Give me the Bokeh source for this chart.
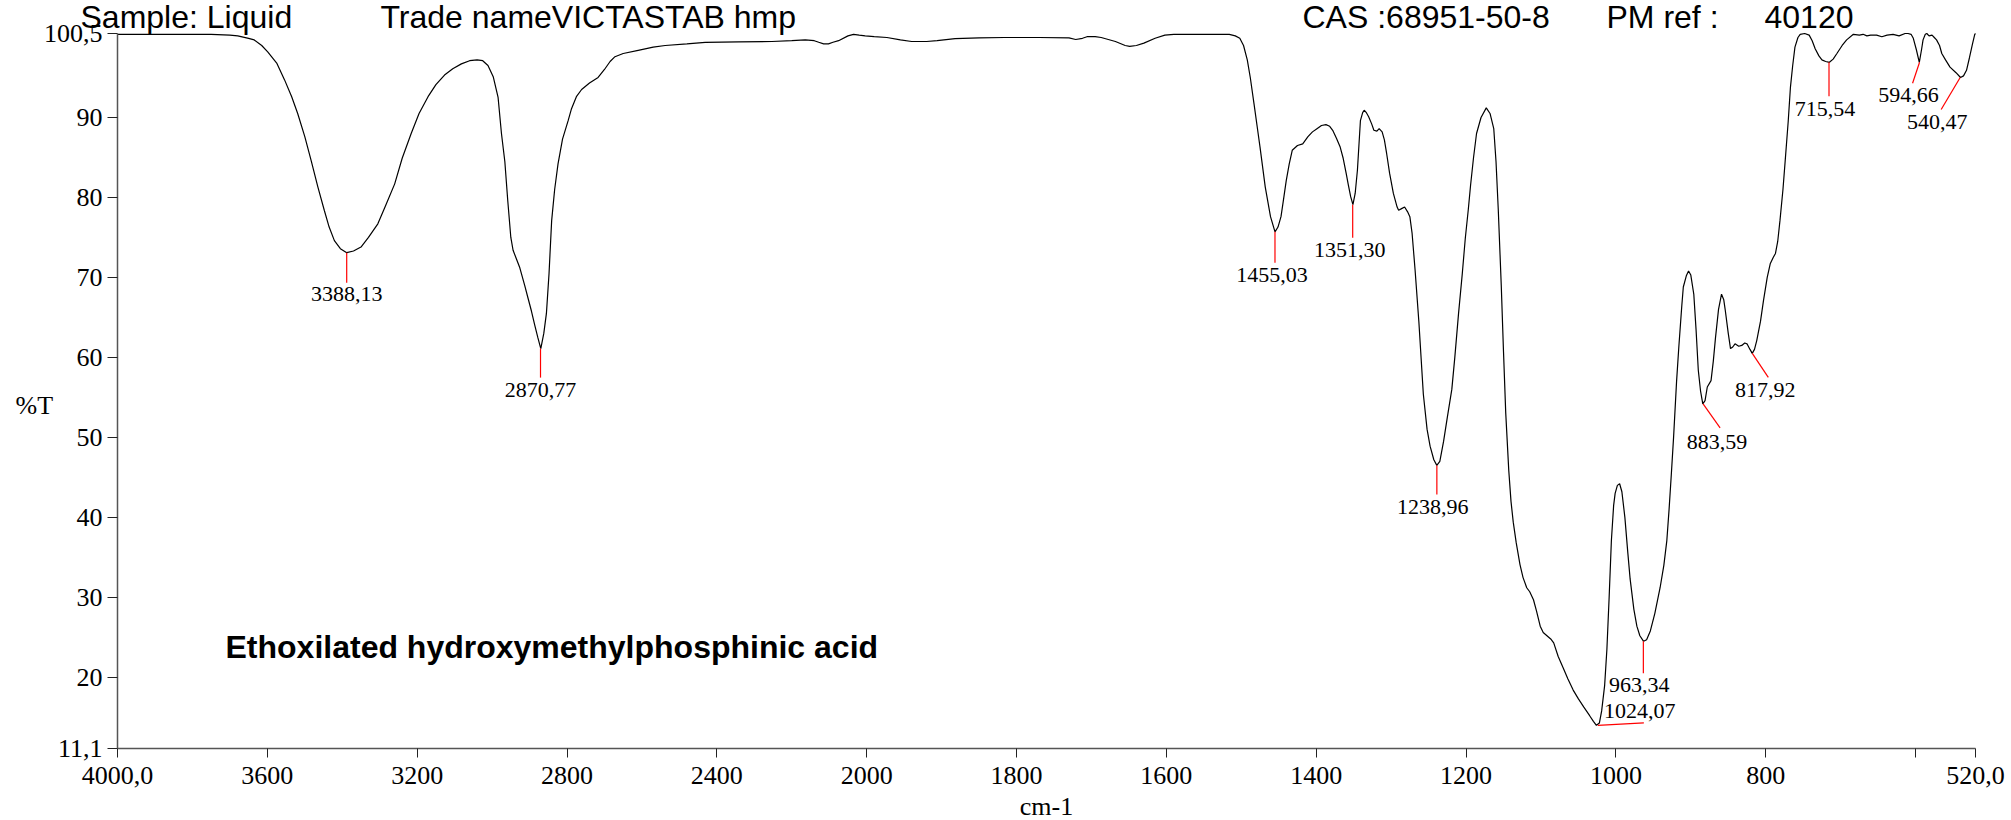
import numpy as np
from bokeh.plotting import figure
from bokeh.models import FixedTicker, ColumnDataSource
from bokeh.core.properties import value
from bokeh.embed import file_html
from bokeh.resources import INLINE

# ---------------- data ----------------
wavenumber = [4000, 3900, 3800, 3750, 3700, 3679, 3650, 3635, 3615, 3599, 3575, 3554, 3535, 3519, 3500,
              3483, 3465, 3448, 3435, 3421, 3405, 3388, 3370, 3350, 3330, 3305, 3285, 3260, 3240, 3216,
              3195, 3171, 3150, 3127, 3105, 3082, 3060, 3040, 3025, 3011, 2997, 2984, 2975, 2966, 2958,
              2950, 2944, 2935, 2926, 2913, 2904, 2895, 2886, 2878, 2870, 2862, 2855, 2848, 2841, 2833,
              2824, 2812, 2797, 2788, 2775, 2761, 2740, 2717, 2700, 2685, 2672, 2650, 2610, 2570, 2538,
              2480, 2431, 2342, 2253, 2200, 2164, 2140, 2128, 2115, 2102, 2090, 2075, 2050, 2035, 2020,
              2004, 1990, 1973, 1955, 1940, 1920, 1906, 1882, 1850, 1816, 1770, 1730, 1721, 1712, 1706,
              1695, 1687, 1668, 1655, 1649, 1640, 1630, 1615, 1602, 1590, 1578, 1516, 1508, 1502, 1497,
              1492, 1488, 1483, 1479, 1475, 1468, 1461, 1455, 1451, 1447, 1444, 1440, 1436, 1432, 1425,
              1418, 1411, 1405, 1399, 1393, 1387, 1382, 1378, 1373, 1368, 1364, 1360, 1357, 1354, 1351,
              1348, 1345, 1343, 1341, 1338, 1336, 1333, 1330, 1326, 1323, 1319, 1316, 1312, 1309, 1306,
              1302, 1297, 1292, 1290, 1286, 1282, 1278, 1275, 1272, 1268, 1263, 1257, 1252, 1248, 1243,
              1239, 1235, 1230, 1225, 1219, 1215, 1210, 1205, 1201, 1197, 1194, 1190, 1186, 1180, 1173,
              1168, 1163, 1160, 1157, 1153, 1150, 1147, 1143, 1140, 1137, 1133, 1128, 1124, 1119, 1115,
              1110, 1106, 1101, 1097, 1092, 1087, 1083, 1077, 1070, 1064, 1057, 1050, 1043, 1035, 1030,
              1026, 1022, 1019, 1015, 1012, 1009, 1006, 1003, 1001, 998, 995, 992, 988, 984, 981,
              976, 972, 968, 963, 959, 954, 948, 941, 936, 932, 929, 926, 923, 919, 916,
              912, 910, 906, 903, 900, 896, 893, 890, 887, 884, 881, 878, 873, 870, 867,
              863, 859, 856, 854, 850, 847, 844, 841, 836, 832, 828, 825, 821, 818, 815,
              812, 807, 803, 798, 794, 790, 787, 784, 781, 777, 774, 770, 767, 764, 761,
              757, 754, 748, 742, 738, 734, 729, 725, 720, 715, 710, 705, 698, 692, 683,
              675, 670, 665, 660, 652, 645, 638, 630, 622, 614, 610, 606, 603, 599, 595,
              592, 590, 587, 585, 582, 578, 575, 572, 568, 565, 560, 554, 546, 540, 536,
              532, 528, 524, 521, 520]
transmittance = [100.4, 100.4, 100.4, 100.4, 100.3, 100.2, 99.9, 99.7, 99.0, 98.2, 96.8, 94.7, 92.6, 90.5, 87.6,
                 84.6, 81.3, 78.4, 76.3, 74.6, 73.6, 73.1, 73.3, 73.8, 75.0, 76.7, 78.9, 81.7, 84.9, 88.0,
                 90.5, 92.6, 94.1, 95.3, 96.1, 96.7, 97.1, 97.2, 97.1, 96.5, 95.1, 92.5, 88.0, 84.5, 79.5,
                 75.0, 73.4, 72.3, 71.2, 69.0, 67.4, 65.8, 64.0, 62.5, 61.1, 63.0, 65.5, 70.5, 77.1, 81.0,
                 84.2, 87.3, 89.6, 91.1, 92.6, 93.5, 94.3, 95.0, 96.0, 97.0, 97.6, 98.0, 98.4, 98.8, 99.0,
                 99.2, 99.4, 99.45, 99.5, 99.6, 99.7, 99.6, 99.4, 99.2, 99.2, 99.4, 99.6, 100.2, 100.4, 100.3,
                 100.2, 100.1, 100.0, 99.7, 99.5, 99.5, 99.6, 99.85, 99.95, 100.0, 100.0, 99.95, 99.75, 99.9, 100.1,
                 100.1, 100.0, 99.5, 99.0, 98.9, 99.0, 99.3, 99.9, 100.3, 100.4, 100.4, 100.4, 100.2, 99.9, 99.0,
                 97.2, 95.0, 91.7, 89.0, 86.3, 81.3, 77.6, 75.7, 76.3, 77.6, 79.5, 82.1, 84.2, 85.9, 86.5,
                 86.7, 87.6, 88.2, 88.6, 89.0, 89.1, 88.9, 88.4, 87.4, 86.3, 84.9, 83.0, 81.5, 80.1, 79.1,
                 80.5, 83.4, 86.5, 89.6, 90.6, 90.9, 90.6, 90.1, 89.2, 88.4, 88.3, 88.6, 88.2, 87.2, 85.5,
                 83.0, 80.5, 78.8, 78.4, 78.6, 78.8, 78.2, 77.6, 75.5, 70.9, 64.5, 55.4, 51.0, 48.9, 47.2,
                 46.5, 47.0, 49.5, 52.5, 56.0, 60.0, 65.5, 70.5, 74.9, 78.5, 81.5, 85.0, 88.0, 90.0, 91.2,
                 90.5, 88.6, 84.5, 78.5, 69.0, 60.7, 53.0, 45.9, 42.0, 39.4, 36.8, 34.1, 32.5, 31.2, 30.7,
                 29.7, 28.3, 26.4, 25.6, 25.2, 24.8, 24.3, 22.6, 21.1, 19.8, 18.4, 17.3, 16.3, 15.2, 14.5,
                 14.0, 14.3, 15.8, 19.0, 23.5, 30.0, 37.1, 41.5, 43.0, 44.0, 44.2, 43.2, 40.0, 35.5, 32.3,
                 28.5, 26.4, 25.2, 24.5, 24.7, 25.8, 28.0, 31.2, 34.0, 37.1, 41.0, 45.4, 50.0, 57.0, 61.3,
                 66.5, 68.8, 70.2, 70.8, 70.3, 67.9, 63.5, 58.4, 55.8, 54.2, 54.6, 56.3, 57.1, 59.5, 62.5,
                 66.0, 67.9, 67.2, 65.9, 63.0, 61.1, 61.3, 61.7, 61.4, 61.5, 61.8, 61.7, 61.0, 60.5, 61.0,
                 62.1, 64.5, 67.1, 70.0, 71.7, 72.5, 73.0, 74.5, 77.1, 81.0, 84.6, 89.5, 93.8, 96.5, 98.8,
                 100.0, 100.4, 100.5, 100.3, 99.6, 98.6, 97.7, 97.2, 97.0, 96.9, 97.3, 98.0, 99.0, 99.7, 100.4,
                 100.3, 100.4, 100.2, 100.3, 100.3, 100.1, 100.3, 100.4, 100.2, 100.5, 100.5, 100.4, 99.9, 98.5, 96.9,
                 98.5, 99.7, 100.4, 100.5, 100.2, 100.3, 100.0, 99.7, 99.0, 98.0, 97.2, 96.3, 95.6, 95.0, 95.2,
                 95.9, 97.5, 99.2, 100.4, 100.5]

peak_wn = [3388.13, 2870.77, 1455.03, 1351.30, 1238.96, 1024.07, 963.34, 883.59, 817.92, 715.54, 594.66, 540.47]
peak_t = [73.1, 61.1, 75.7, 79.1, 46.5, 14.0, 24.5, 54.2, 60.5, 96.9, 96.9, 95.0]
peak_text = ["3388,13", "2870,77", "1455,03", "1351,30", "1238,96", "1024,07",
             "963,34", "883,59", "817,92", "715,54", "594,66", "540,47"]

x_tick_wn = [4000, 3600, 3200, 2800, 2400, 2000, 1800, 1600, 1400, 1200, 1000, 800, 600, 520]
x_tick_text = ["4000,0", "3600", "3200", "2800", "2400", "2000", "1800", "1600", "1400",
               "1200", "1000", "800", "", "520,0"]
y_ticks = [11.1, 20, 30, 40, 50, 60, 70, 80, 90, 100.5]
y_tick_text = ["11,1", "20", "30", "40", "50", "60", "70", "80", "90", "100,5"]

header_text = ["Sample: Liquid", "Trade nameVICTASTAB hmp", "CAS :68951-50-8", "PM ref :", "40120"]
compound_text = "Ethoxilated hydroxymethylphosphinic acid"
y_title = "%T"
x_title = "cm-1"

# ---------------- styling / layout (screen pixels) ----------------
lead_dx = [0, 0, 0, 0, 0, 46, 0, 17, 16, 0, -7, -19]
lead_dy = [30, 29, 31, 33, 29, -2.5, 32, 24, 24, 34, 21, 32]
lab_dx = [0, 0, -3, -3, -4, 42, -4, 14, 13, -4, -11, -23]
lab_dy = [41, 41, 43, 45, 42, -14.5, 44, 38, 37, 47, 33, 45]
header_px = [-37, 263, 1185, 1489, 1647]   # left edge, relative to the y axis

W, H = 2011, 820
AX_LEFT, AX_RIGHT, AX_TOP, AX_BOTTOM = 117, 1975, 33, 748


def axis_pos(wn):
    """IR chart abscissa: scale doubles below 2000 cm-1."""
    wn = np.asarray(wn, dtype=float)
    return np.where(wn >= 2000, (4000.0 - wn) / 2.0, 1000.0 + (2000.0 - wn))


U0, U1 = 0.0, float(axis_pos(520))
T0, T1 = 11.1, 100.5
px_per_x = (AX_RIGHT - AX_LEFT) / (U1 - U0)
px_per_y = (AX_BOTTOM - AX_TOP) / (T1 - T0)

x_start = U0 - AX_LEFT / px_per_x
x_end = U1 + (W - AX_RIGHT) / px_per_x
y_start = T0 - (H - AX_BOTTOM) / px_per_y
y_end = T1 + AX_TOP / px_per_y

p = figure(frame_width=W, frame_height=H, x_range=(x_start, x_end), y_range=(y_start, y_end),
           min_border=0, min_border_left=0, min_border_right=0, min_border_top=0, min_border_bottom=0,
           output_backend="svg", toolbar_location=None)
p.title.visible = False
p.xgrid.visible = False
p.ygrid.visible = False
p.outline_line_color = None
p.background_fill_color = "white"
p.border_fill_color = "white"

serif = "Liberation Serif"

xt = [float(v) for v in axis_pos(x_tick_wn)]
p.xaxis.ticker = FixedTicker(ticks=xt)
p.xaxis.major_label_overrides = {t: s for t, s in zip(xt, x_tick_text)}
p.xaxis.fixed_location = T0
p.xaxis.bounds = (U0, U1)
p.yaxis.ticker = FixedTicker(ticks=y_ticks)
p.yaxis.major_label_overrides = {t: s for t, s in zip(y_ticks, y_tick_text)}
p.yaxis.fixed_location = U0
p.yaxis.bounds = (T0, T1)
for ax in (p.xaxis, p.yaxis):
    ax.axis_line_color = "#555555"
    ax.axis_line_width = 1.5
    ax.major_tick_line_color = "#222222"
    ax.major_tick_in = 0
    ax.minor_tick_line_color = None
    ax.major_label_text_font = serif
    ax.major_label_text_font_size = "26px"
    ax.major_label_text_color = "black"
p.xaxis.major_tick_out = 9
p.xaxis.major_label_standoff = 9
p.yaxis.major_tick_out = 10
p.yaxis.major_label_standoff = 5
p.yaxis.major_label_text_baseline = "alphabetic"

# spectrum
p.line(axis_pos(wavenumber), transmittance, line_color="black", line_width=1.2)

# peak markers
pu = axis_pos(peak_wn)
pt = np.asarray(peak_t)
src = ColumnDataSource(dict(
    x0=pu, y0=pt,
    x1=pu + np.asarray(lead_dx) / px_per_x,
    y1=pt - np.asarray(lead_dy) / px_per_y,
    text=peak_text, dx=lab_dx, dy=lab_dy))
p.segment("x0", "y0", "x1", "y1", source=src, line_color="#ff0000", line_width=1.2)
p.text("x0", "y0", text="text", source=src, x_offset="dx", y_offset="dy",
       text_align="center", text_baseline="middle",
       text_font=value(serif), text_font_size="22px", text_color="black")

# header line (cap-height centre ~16 px from the top of the page)
hdr = ColumnDataSource(dict(x=[v / px_per_x for v in header_px],
                            y=[T1 + (AX_TOP - 16.5) / px_per_y] * len(header_text), text=header_text))
p.text("x", "y", text="text", source=hdr, text_align="left", text_baseline="middle",
       text_font=value("Liberation Sans"), text_font_size="32px", text_color="black")

# compound name
p.text(x=[108 / px_per_x], y=[T1 - (646.5 - AX_TOP) / px_per_y], text=[compound_text],
       text_align="left", text_baseline="middle", text_font=value("Liberation Sans"),
       text_font_style="bold", text_font_size="32px", text_color="black")

# axis titles
p.text(x=[-102 / px_per_x], y=[T1 - 372 / px_per_y], text=[y_title],
       text_align="left", text_baseline="middle", text_font=value(serif),
       text_font_size="26px", text_color="black")
p.text(x=[(U0 + U1) / 2], y=[T0 - 58 / px_per_y], text=[x_title],
       text_align="center", text_baseline="middle", text_font=value(serif),
       text_font_size="26px", text_color="black")

open("out.html", "w").write(file_html(p, INLINE))
